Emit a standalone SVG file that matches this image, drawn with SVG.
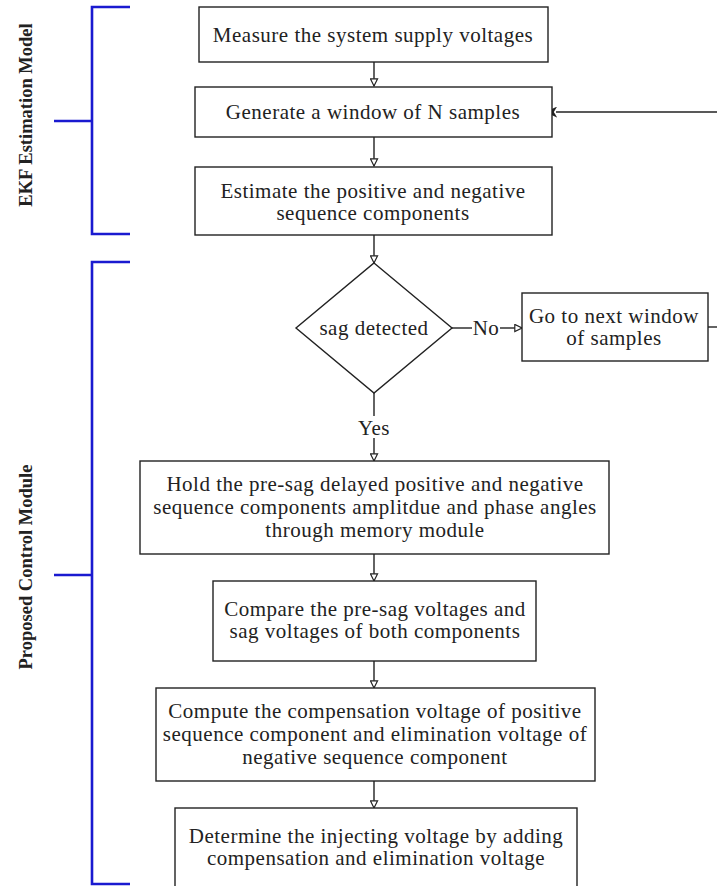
<svg xmlns="http://www.w3.org/2000/svg" width="717" height="886" viewBox="0 0 717 886">
<defs>
<style>
.box{fill:#fff;stroke:#222;stroke-width:1.4}
.t{font-family:"Liberation Serif","Times New Roman",serif;font-size:21px;letter-spacing:0.5px;fill:#222;text-anchor:middle}
.c{fill:none;stroke:#222;stroke-width:1.4}
.br{fill:none;stroke:#1a1ad0;stroke-width:2.6}
.lbl{font-family:"Liberation Serif","Times New Roman",serif;font-size:18.5px;font-weight:bold;fill:#222;text-anchor:middle}
</style>
<marker id="open" viewBox="0 0 10 10" refX="9" refY="5" markerWidth="9" markerHeight="9" markerUnits="userSpaceOnUse" orient="auto">
<path d="M1,1 L9,5 L1,9 Z" fill="#fff" stroke="#222" stroke-width="1.3"/>
</marker>
<marker id="solid" viewBox="0 0 12 10" refX="1" refY="5" markerWidth="13" markerHeight="11" markerUnits="userSpaceOnUse" orient="auto">
<path d="M11,5 L0,0 L3,5 L0,10 Z" fill="#222"/>
</marker>
</defs>
<rect width="717" height="886" fill="#fff"/>

<g id="brackets">
<path class="br" d="M130,7 H92 V234 H130 M54,121 H92"/>
<path class="br" d="M130,262 H92 V884 H130 M54,575 H92"/>
<text class="lbl" transform="translate(32,115) rotate(-90)">EKF Estimation Model</text>
<text class="lbl" transform="translate(32,567) rotate(-90)">Proposed Control Module</text>
</g>

<g id="connectors">
<line class="c" x1="374" y1="62" x2="374" y2="86" marker-end="url(#open)"/>
<line class="c" x1="374" y1="137" x2="374" y2="166" marker-end="url(#open)"/>
<line class="c" x1="374" y1="235" x2="374" y2="263" marker-end="url(#open)"/>
<line class="c" x1="374" y1="393" x2="374" y2="416"/>
<line class="c" x1="374" y1="438" x2="374" y2="461" marker-end="url(#open)"/>
<line class="c" x1="452" y1="328" x2="472" y2="328"/>
<line class="c" x1="500" y1="328" x2="522" y2="328" marker-end="url(#open)"/>
<line class="c" x1="708" y1="327" x2="717" y2="327"/>
<line class="c" x1="717" y1="112" x2="556" y2="112" marker-end="url(#solid)"/>
<line class="c" x1="374" y1="554" x2="374" y2="581" marker-end="url(#open)"/>
<line class="c" x1="374" y1="661" x2="374" y2="688" marker-end="url(#open)"/>
<line class="c" x1="374" y1="781" x2="374" y2="808" marker-end="url(#open)"/>
<text class="t" x="374" y="435">Yes</text>
<text class="t" x="486" y="335">No</text>
</g>

<g id="measure">
<rect class="box" x="199" y="7" width="349" height="55"/>
<text class="t" x="373" y="42">Measure the system supply voltages</text>
</g>
<g id="generate">
<rect class="box" x="195" y="87" width="357" height="50"/>
<text class="t" x="373" y="119">Generate a window of N samples</text>
</g>
<g id="estimate">
<rect class="box" x="195" y="167" width="357" height="68"/>
<text class="t" x="373" y="198">Estimate the positive and negative</text>
<text class="t" x="373" y="220">sequence components</text>
</g>
<g id="sag">
<path class="box" d="M374,263 L452,328 L374,393 L296,328 Z"/>
<text class="t" x="374" y="335">sag detected</text>
</g>
<g id="next">
<rect class="box" x="522" y="293" width="186" height="68"/>
<text class="t" x="614" y="323">Go to next window</text>
<text class="t" x="614" y="345">of samples</text>
</g>
<g id="hold">
<rect class="box" x="140" y="461" width="469" height="93"/>
<text class="t" x="375" y="491">Hold the pre-sag delayed positive and negative</text>
<text class="t" x="375" y="514">sequence components amplitdue and phase angles</text>
<text class="t" x="375" y="537">through memory module</text>
</g>
<g id="compare">
<rect class="box" x="213" y="581" width="323" height="80"/>
<text class="t" x="375" y="616">Compare the pre-sag voltages and</text>
<text class="t" x="375" y="638">sag voltages of both components</text>
</g>
<g id="compute">
<rect class="box" x="156" y="688" width="439" height="93"/>
<text class="t" x="375" y="718">Compute the compensation voltage of positive</text>
<text class="t" x="375" y="741">sequence component and elimination voltage of</text>
<text class="t" x="375" y="764">negative sequence component</text>
</g>
<g id="determine">
<rect class="box" x="175" y="808" width="402" height="90"/>
<text class="t" x="376" y="843">Determine the injecting voltage by adding</text>
<text class="t" x="376" y="865">compensation and elimination voltage</text>
</g>
</svg>
